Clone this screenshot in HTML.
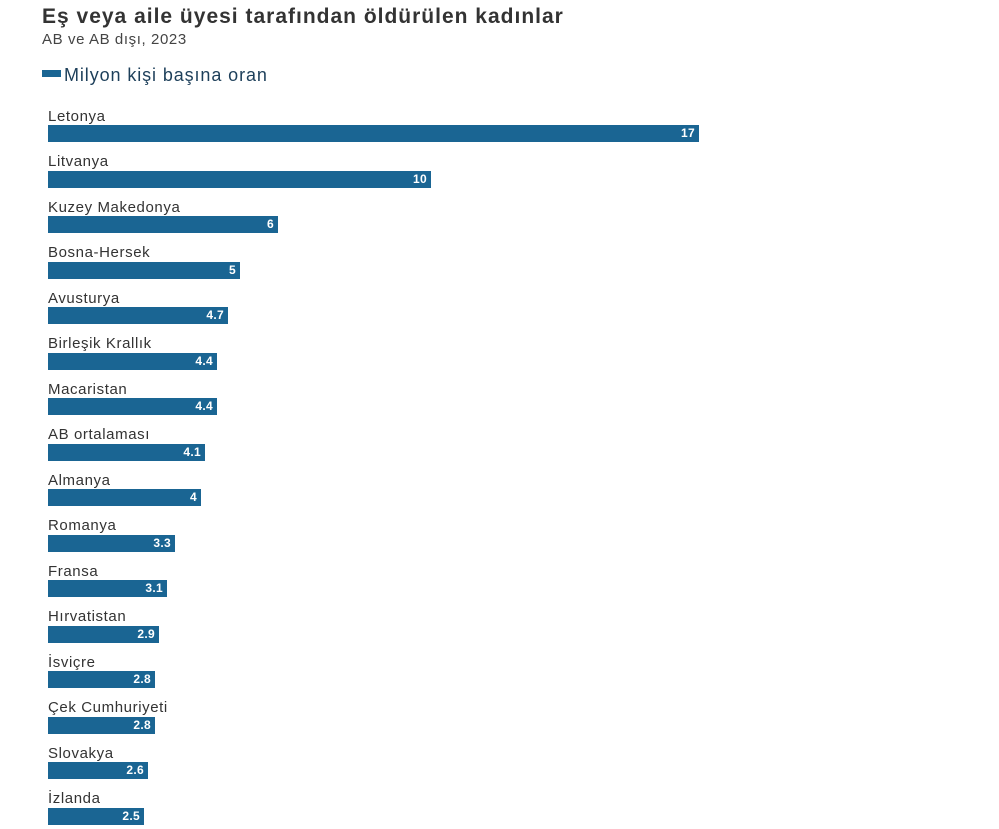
<!DOCTYPE html>
<html><head><meta charset="utf-8"><style>
body{margin:0;width:999px;height:829px;background:#fff;font-family:"Liberation Sans","DejaVu Sans",sans-serif;position:relative;overflow:hidden}
.t{position:absolute;left:42px;top:5px;font-size:21px;font-weight:bold;color:#333;letter-spacing:1px}
.s{position:absolute;left:42px;top:31px;font-size:15px;color:#444;letter-spacing:0.6px}
.lg{position:absolute;left:42px;top:65px;font-size:18px;color:#1d3f5a;letter-spacing:0.9px}
.lg i{display:inline-block;width:19px;height:7px;background:#1a6593;margin-right:3px;vertical-align:4px}
.l{position:absolute;left:48px;font-size:15px;color:#333;letter-spacing:0.6px}
.b{position:absolute;left:48px;height:17px;background:#1a6593;color:#fff;font-weight:bold;font-size:12px;text-align:right;box-sizing:border-box;padding-right:4px;line-height:17px;letter-spacing:0.3px}
</style></head><body>
<div class="t">Eş veya aile üyesi tarafından öldürülen kadınlar</div>
<div class="s">AB ve AB dışı, 2023</div>
<div class="lg"><i></i>Milyon kişi başına oran</div>
<div class="l" style="top:108px">Letonya</div><div class="b" style="top:125px;width:651px">17</div>
<div class="l" style="top:153px">Litvanya</div><div class="b" style="top:171px;width:383px">10</div>
<div class="l" style="top:199px">Kuzey Makedonya</div><div class="b" style="top:216px;width:230px">6</div>
<div class="l" style="top:244px">Bosna-Hersek</div><div class="b" style="top:262px;width:192px">5</div>
<div class="l" style="top:290px">Avusturya</div><div class="b" style="top:307px;width:180px">4.7</div>
<div class="l" style="top:335px">Birleşik Krallık</div><div class="b" style="top:353px;width:169px">4.4</div>
<div class="l" style="top:381px">Macaristan</div><div class="b" style="top:398px;width:169px">4.4</div>
<div class="l" style="top:426px">AB ortalaması</div><div class="b" style="top:444px;width:157px">4.1</div>
<div class="l" style="top:472px">Almanya</div><div class="b" style="top:489px;width:153px">4</div>
<div class="l" style="top:517px">Romanya</div><div class="b" style="top:535px;width:127px">3.3</div>
<div class="l" style="top:563px">Fransa</div><div class="b" style="top:580px;width:119px">3.1</div>
<div class="l" style="top:608px">Hırvatistan</div><div class="b" style="top:626px;width:111px">2.9</div>
<div class="l" style="top:654px">İsviçre</div><div class="b" style="top:671px;width:107px">2.8</div>
<div class="l" style="top:699px">Çek Cumhuriyeti</div><div class="b" style="top:717px;width:107px">2.8</div>
<div class="l" style="top:745px">Slovakya</div><div class="b" style="top:762px;width:100px">2.6</div>
<div class="l" style="top:790px">İzlanda</div><div class="b" style="top:808px;width:96px">2.5</div>
</body></html>
